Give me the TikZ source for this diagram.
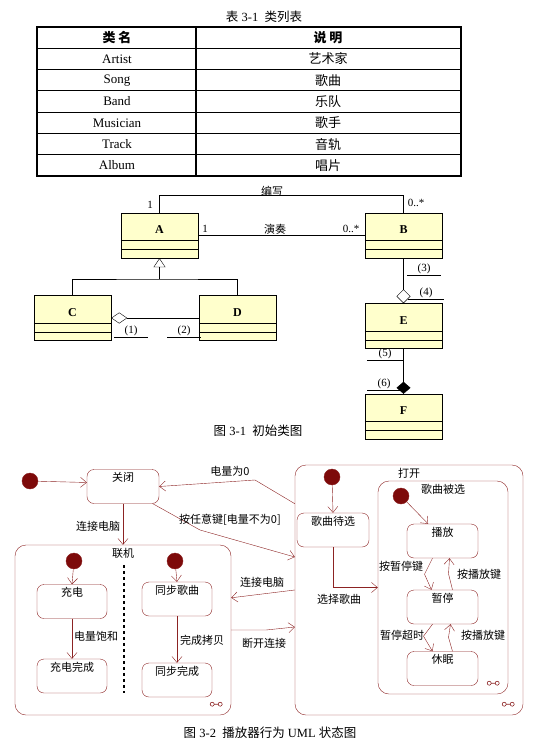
\documentclass[tikz,border=0pt]{standalone}
\usepackage{fontspec}
\setmainfont{Liberation Serif}
\newfontfamily\cjk{Noto Sans CJK SC}
\usepackage{xcolor}
\usepackage{tikz}
\usetikzlibrary{arrows.meta, positioning, shapes.geometric, calc}

\definecolor{classfill}{RGB}{255,255,204}
\definecolor{stline}{RGB}{140,35,35}
\definecolor{initfill}{RGB}{125,10,10}

% class box with two empty compartments
\newcommand{\umlclass}[3]{%
  \node[classbox] (#1) at (#2,#3) {};
  \node[clname] (#1-name) at ($(#1.north)+(0,17)$) {#1};
  \draw ($(#1.south west)+(0,-9)$) -- ($(#1.south east)+(0,-9)$);
  \draw ($(#1.south west)+(0,-18)$) -- ($(#1.south east)+(0,-18)$);
}

\begin{document}
\begin{tikzpicture}[x=1pt, y=-1pt,
    captxt/.style={font=\fontsize{12.5}{14}\selectfont},
    cell/.style={font=\fontsize{13}{15}\selectfont},
    classbox/.style={draw, fill=classfill, minimum width=77pt, minimum height=45pt, inner sep=0pt},
    clname/.style={font=\bfseries\fontsize{12}{14}\selectfont},
    cl/.style={font=\fontsize{11}{13}\selectfont, inner sep=1pt},
    blank/.style={cl, minimum width=33pt},
    state/.style={draw=stline, rounded corners=7pt, minimum width=71pt, text height=9pt, text depth=19pt, inner ysep=3pt, font=\cjk\fontsize{11}{13}\selectfont},
    comp/.style={draw=stline, rounded corners=11pt, inner sep=0pt},
    init/.style={circle, fill=initfill, draw=stline, minimum size=16pt, inner sep=0pt},
    sl/.style={font=\cjk\fontsize{11}{13}\selectfont, inner sep=1pt},
    tr/.style={draw=stline, -{Straight Barb[length=6pt,width=10pt]}}]
    \useasboundingbox (0,0) rectangle (540,746);

    % ---- table 3-1
    \node[captxt] (tabcap) at (264,17) {{\cjk 表} 3-1\ \ {\cjk 类列表}};
    \draw[line width=1.2pt] (37,27) rectangle (461,176);
    \draw[line width=1.2pt] (196,27) -- (196,176);
    \foreach \r in {1,...,6} \draw[line width=1pt] (37,27+21.3*\r) -- (461,27+21.3*\r);
    \node[cell] (hd1) at (117,37.6) {\cjk\bfseries 类 名};
    \node[cell] (hd2) at (328,37.6) {\cjk\bfseries 说 明};
    \foreach \cls/\desc [count=\i] in {Artist/艺术家, Song/歌曲, Band/乐队, Musician/歌手, Track/音轨, Album/唱片} {
        \node[cell] (cls\i) at (117,37.6+21.3*\i) {\cls};
        \node[cell] (desc\i) at (328,37.6+21.3*\i) {\cjk\desc};
    }

    % ---- class diagram 3-1
    \umlclass{A}{159.5}{235.5}
    \umlclass{B}{403.5}{235.5}
    \umlclass{C}{72.5}{318}
    \umlclass{D}{237.5}{318}
    \umlclass{E}{403.5}{326}
    \umlclass{F}{403.5}{416.5}

    % associations A - B
    \draw (A.north) -- ++(0,-17.5) -| (B.north);
    \node[cl] (wr-lbl) at (272,191) {\cjk 编写};
    \node[cl] (wr-a) at (150,205) {1};
    \node[cl] (wr-b) at (416,203) {0..*};
    \draw (A.east) -- (B.west);
    \node[cl] (pl-lbl) at (275,229) {\cjk 演奏};
    \node[cl] (pl-a) at (205,229) {1};
    \node[cl] (pl-b) at (351,229) {0..*};

    % generalization
    \coordinate (gen) at (159.5,279);
    \draw[-{Triangle[open,length=9pt,width=12pt]}] (gen) -- (A.south);
    \draw (C.north) |- (gen) -| (D.north);

    % aggregations / composition
    \draw[{Diamond[open,length=16pt,width=11pt]}-] (C.east) -- (D.west);
    \draw[{Diamond[open,length=14pt,width=14pt]}-] (E.north) -- (B.south);
    \draw[{Diamond[length=12pt,width=14pt]}-] (F.north) -- (E.south);

    \node[blank] (n1) at (131,331) {(1)};
    \node[blank] (n2) at (184,331) {(2)};
    \node[blank] (n3) at (424,269) {(3)};
    \node[blank, minimum width=36pt] (n4) at (426,293) {(4)};
    \node[blank, minimum width=36pt] (n5) at (385,354) {(5)};
    \node[blank] (n6) at (384,384) {(6)};
    \foreach \n in {n1,n2,n3,n4,n5,n6} \draw (\n.south west) -- (\n.south east);

    \node[captxt] (cap1) at (258,431) {{\cjk 图} 3-1\ \ {\cjk 初始类图}};

    % ---- state diagram 3-2
    \node[comp, minimum width=216pt, minimum height=170pt, label={[sl,anchor=north,inner sep=3pt]north:联机}] (online) at (123,630) {};
    \node[comp, minimum width=228pt, minimum height=250pt, label={[sl,anchor=north,inner sep=3pt]north:打开}] (on) at (409,590) {};
    \node[comp, minimum width=130pt, minimum height=213pt, label={[sl,anchor=north,inner sep=3pt]north:歌曲被选}] (sel) at (443,587.5) {};

    \node[init] (i0) at (30,481) {};
    \node[init] (i1) at (74,561) {};
    \node[init] (i2) at (175,561) {};
    \node[init] (i3) at (332,477) {};
    \node[init] (i4) at (401,496) {};

    \node[state, minimum width=72pt] (off) at (123,486.5) {关闭};
    \node[state, minimum width=70pt] (charge) at (72,601.5) {充电};
    \node[state, minimum width=70pt] (charged) at (72,676) {充电完成};
    \node[state, minimum width=70pt] (sync) at (177,599) {同步歌曲};
    \node[state, minimum width=70pt] (synced) at (177,680) {同步完成};
    \node[state, minimum width=72pt] (wait) at (333,530) {歌曲待选};
    \node[state] (play) at (442.5,541) {播放};
    \node[state] (pause) at (442.5,607) {暂停};
    \node[state] (sleep) at (442.5,668.5) {休眠};

    % dividers and decomposition icons
    \draw[dashed, line width=1.2pt] ($(online.north)+(1,20)$) -- ($(online.south)+(1,-22)$);
    \foreach \c in {online, on, sel} {
        \begin{scope}[shift={($(\c.south east)+(-15,-11)$)}]
            \draw[stline, line width=0.6pt] (-4,0) circle (2pt) (4,0) circle (2pt) (-2,0) -- (2,0);
        \end{scope}
    }

    % transitions
    \draw[tr] (i0) -- ($(off.west)+(0,-4)$);
    \draw[tr] (on.west |- off.south) -- (255,480) -- (off.east);
    \node[sl] (t-empty) at (230,471) {电量为0};
    \draw[tr] (off.-30) -- (200,530) -- ($(on.west)+(0,-33)$);
    \node[sl] (t-any) at (230,520) {按任意键[电量不为0]};
    \draw[tr] (off.south) -- (online.north);
    \node[sl] (t-pc1) at (98,526) {连接电脑};
    \draw[tr] (on.west) -- ($(online.north east)+(0,53)$);
    \node[sl] (t-pc2) at (262,582) {连接电脑};
    \draw[tr] (online.east) -- (266,630) -- ($(on.west)+(0,37)$);
    \node[sl] (t-off) at (264,643) {断开连接};

    \draw[tr] (i1) -- (charge.north);
    \draw[tr] (charge.south) -- (charged.north);
    \node[sl, anchor=west] (t-full) at (73,636) {电量饱和};
    \draw[tr] (i2) -- (sync.north);
    \draw[tr] (sync.south) -- (synced.north);
    \node[sl, anchor=west] (t-copy) at (179,640) {完成拷贝};

    \draw[tr] (i3) -- (wait.north);
    \draw[tr] (wait.south) |- (sel.west);
    \node[sl] (t-pick) at (339,599) {选择歌曲};
    \draw[tr] (i4) -- (play.130);
    \draw[tr] ($(play.south)+(-10,0)$) -- ++(-8,16) -- ($(pause.north)+(-11,0)$);
    \node[sl] (t-p1) at (401,566) {按暂停键};
    \draw[tr] ($(pause.north)+(10,0)$) -- ++(-4,-16) -- ($(play.south)+(7,0)$);
    \node[sl] (t-p2) at (479,574) {按播放键};
    \draw[tr] ($(pause.south)+(-10,0)$) -- ++(-9,12) -- ($(sleep.north)+(-10,0)$);
    \node[sl] (t-p3) at (402,635) {暂停超时};
    \draw[tr] ($(sleep.north)+(10,0)$) -- ++(-4,-14) -- ($(pause.south)+(8,0)$);
    \node[sl] (t-p4) at (483,635) {按播放键};

    \node[captxt] (cap2) at (270,733) {{\cjk 图} 3-2\ \ {\cjk 播放器行为} UML {\cjk 状态图}};
\end{tikzpicture}
\end{document}
